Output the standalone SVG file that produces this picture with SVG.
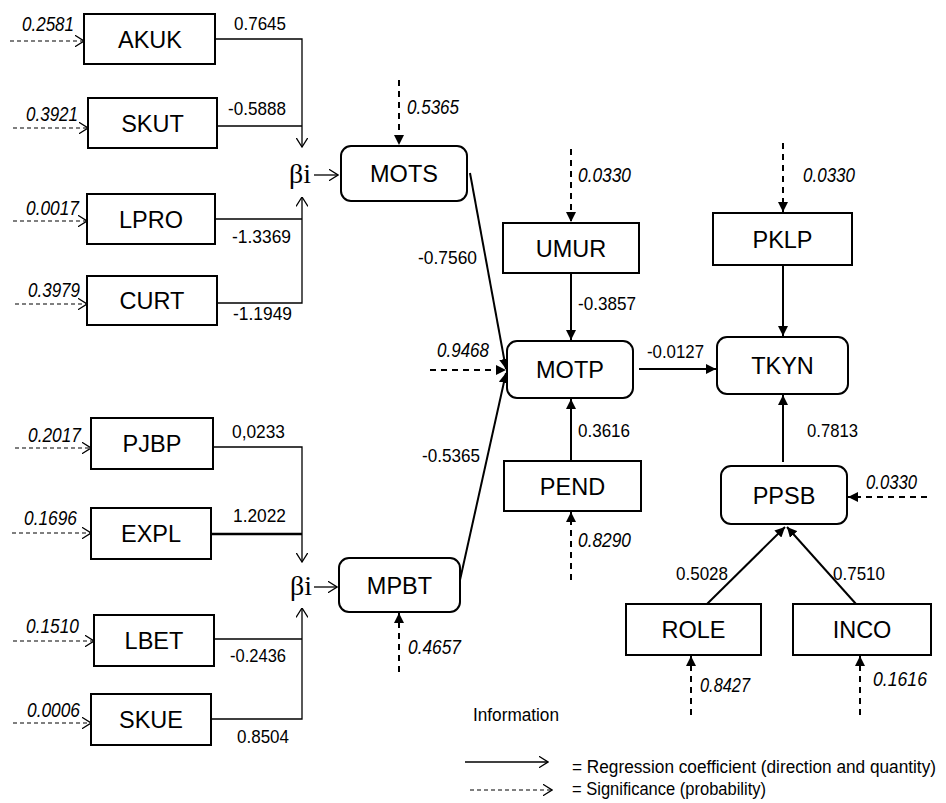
<svg xmlns="http://www.w3.org/2000/svg" width="946" height="803" viewBox="0 0 946 803">
<style>
.box{fill:#fff;stroke:#000;stroke-width:2}
.n{font-family:"Liberation Sans",Arial,sans-serif;font-size:23.5px;text-anchor:middle;fill:#000}
.c{font-family:"Liberation Sans",Arial,sans-serif;font-size:19px;fill:#000}
.l{font-family:"Liberation Sans",Arial,sans-serif;font-size:17.5px;fill:#000}
.p{font-family:"Liberation Sans",Arial,sans-serif;font-size:19.5px;font-style:italic;fill:#000}
.b{font-family:"Liberation Serif","Times New Roman",serif;font-size:28px;fill:#000}
.thin{fill:none;stroke:#000;stroke-width:1.3}
.thick{fill:none;stroke:#000;stroke-width:2.5}
.sol{fill:none;stroke:#000;stroke-width:2;marker-end:url(#fill)}
.dthin{fill:none;stroke:#000;stroke-width:1.2;stroke-dasharray:4 3;marker-end:url(#open)}
.dthick{fill:none;stroke:#000;stroke-width:2;stroke-dasharray:6 5;marker-end:url(#fill)}
.oa{marker-end:url(#open)}
</style>
<defs>
<marker id="open" viewBox="0 0 10 12" refX="9.5" refY="6" markerWidth="10" markerHeight="12" orient="auto" markerUnits="userSpaceOnUse"><path d="M0,0 L9.5,6 L0,12" fill="none" stroke="#000" stroke-width="1.3"/></marker>
<marker id="fill" viewBox="0 0 10 10" refX="10" refY="5" markerWidth="10" markerHeight="10" orient="auto" markerUnits="userSpaceOnUse"><path d="M0,0 L10,5 L0,10 z" fill="#000"/></marker>
</defs>

<g id="connectors">
<path class="thin oa" d="M215 39 H302 V147"/>
<path class="thin" d="M217 126 H302"/>
<path class="thin" d="M215 219 H302"/>
<path class="thin oa" d="M217 303 H302 V197"/>
<path class="thin oa" d="M314 175 H338"/>
<path class="thin oa" d="M213 447 H302 V562"/>
<path class="thick" d="M211 534 H302"/>
<path class="thin" d="M214 639 H302"/>
<path class="thin oa" d="M211 719 H302 V608"/>
<path class="thin oa" d="M314 587 H337"/>
<path class="dthin" d="M10 41 H84"/>
<path class="dthin" d="M13 128 H88"/>
<path class="dthin" d="M13 221 H87"/>
<path class="dthin" d="M15 304 H87"/>
<path class="dthin" d="M15 448 H91"/>
<path class="dthin" d="M12 533 H91"/>
<path class="dthin" d="M13 641 H94"/>
<path class="dthin" d="M13 723 H91"/>
<path class="sol" d="M470 173 L506 369"/>
<path class="sol" d="M460 580 L506 373"/>
<path class="sol" d="M571 273 V340"/>
<path class="sol" d="M571 461 V399"/>
<path class="sol" d="M639 369 H716"/>
<path class="sol" d="M783 265 V336"/>
<path class="sol" d="M783 462 V395"/>
<path class="sol" d="M707 604 L785 527"/>
<path class="sol" d="M856 604 L787 527"/>
<path class="dthick" d="M399 80 V145"/>
<path class="dthick" d="M571 149 V222"/>
<path class="dthick" d="M430 370 H506"/>
<path class="dthick" d="M571 580 V512"/>
<path class="dthick" d="M783 143 V212"/>
<path class="dthick" d="M927 497 H848"/>
<path class="dthick" d="M399 672 V613"/>
<path class="dthick" d="M691 715 V656"/>
<path class="dthick" d="M860 715 V656"/>
<path class="thin oa" d="M465 762 H548"/>
<path class="dthin" d="M470 790 H552"/>
</g>

<g id="AKUK"><rect class="box" x="84" y="14" width="131" height="50"/><text class="n" x="150" y="47.5">AKUK</text></g>
<g id="SKUT"><rect class="box" x="88" y="98" width="129" height="50"/><text class="n" x="152.5" y="131.5">SKUT</text></g>
<g id="LPRO"><rect class="box" x="87" y="194" width="128" height="50"/><text class="n" x="151" y="227.5">LPRO</text></g>
<g id="CURT"><rect class="box" x="87" y="276" width="130" height="49"/><text class="n" x="152" y="309">CURT</text></g>
<g id="PJBP"><rect class="box" x="91" y="418" width="122" height="51"/><text class="n" x="152" y="452">PJBP</text></g>
<g id="EXPL"><rect class="box" x="91" y="508" width="120" height="51"/><text class="n" x="151" y="542">EXPL</text></g>
<g id="LBET"><rect class="box" x="94" y="615" width="120" height="51"/><text class="n" x="154" y="649">LBET</text></g>
<g id="SKUE"><rect class="box" x="91" y="694" width="120" height="51"/><text class="n" x="151" y="728">SKUE</text></g>
<g id="MOTS"><rect class="box" x="341" y="146" width="126" height="55" rx="10"/><text class="n" x="404" y="182">MOTS</text></g>
<g id="MPBT"><rect class="box" x="339" y="558" width="121" height="54" rx="10"/><text class="n" x="399.5" y="593.5">MPBT</text></g>
<g id="UMUR"><rect class="box" x="503" y="223" width="136" height="50"/><text class="n" x="571" y="256.5">UMUR</text></g>
<g id="MOTP"><rect class="box" x="507" y="341" width="126" height="57" rx="10"/><text class="n" x="570" y="378">MOTP</text></g>
<g id="PEND"><rect class="box" x="504" y="461" width="137" height="50"/><text class="n" x="572.5" y="494.5">PEND</text></g>
<g id="PKLP"><rect class="box" x="713" y="213" width="139" height="52"/><text class="n" x="782.5" y="247.5">PKLP</text></g>
<g id="TKYN"><rect class="box" x="717" y="337" width="131" height="57" rx="10"/><text class="n" x="782.5" y="374">TKYN</text></g>
<g id="PPSB"><rect class="box" x="721" y="466" width="126" height="58" rx="10"/><text class="n" x="784" y="503.5">PPSB</text></g>
<g id="ROLE"><rect class="box" x="626" y="604" width="135" height="51"/><text class="n" x="693.5" y="638">ROLE</text></g>
<g id="INCO"><rect class="box" x="793" y="604" width="138" height="51"/><text class="n" x="862" y="638">INCO</text></g>

<g id="beta">
<text class="b" x="289" y="183">βi</text>
<text class="b" x="290" y="595">βi</text>
</g>

<g id="coefficients">
<text class="c" x="234" y="30" textLength="52" lengthAdjust="spacingAndGlyphs">0.7645</text>
<text class="c" x="228" y="115" textLength="58" lengthAdjust="spacingAndGlyphs">-0.5888</text>
<text class="c" x="232" y="243" textLength="59" lengthAdjust="spacingAndGlyphs">-1.3369</text>
<text class="c" x="233" y="320" textLength="59" lengthAdjust="spacingAndGlyphs">-1.1949</text>
<text class="c" x="232" y="438" textLength="53" lengthAdjust="spacingAndGlyphs">0,0233</text>
<text class="c" x="233" y="522" textLength="53" lengthAdjust="spacingAndGlyphs">1.2022</text>
<text class="c" x="230" y="662" textLength="56" lengthAdjust="spacingAndGlyphs">-0.2436</text>
<text class="c" x="237" y="743" textLength="52" lengthAdjust="spacingAndGlyphs">0.8504</text>
<text class="c" x="418" y="264" textLength="59" lengthAdjust="spacingAndGlyphs">-0.7560</text>
<text class="c" x="422" y="462" textLength="58" lengthAdjust="spacingAndGlyphs">-0.5365</text>
<text class="c" x="578" y="310" textLength="58" lengthAdjust="spacingAndGlyphs">-0.3857</text>
<text class="c" x="578" y="437" textLength="52" lengthAdjust="spacingAndGlyphs">0.3616</text>
<text class="c" x="647" y="358" textLength="57" lengthAdjust="spacingAndGlyphs">-0.0127</text>
<text class="c" x="807" y="437" textLength="51" lengthAdjust="spacingAndGlyphs">0.7813</text>
<text class="c" x="676" y="580" textLength="52" lengthAdjust="spacingAndGlyphs">0.5028</text>
<text class="c" x="833" y="580" textLength="52" lengthAdjust="spacingAndGlyphs">0.7510</text>
</g>

<g id="significance">
<text class="p" x="22" y="31" textLength="52" lengthAdjust="spacingAndGlyphs">0.2581</text>
<text class="p" x="26" y="121" textLength="52" lengthAdjust="spacingAndGlyphs">0.3921</text>
<text class="p" x="26" y="215" textLength="53" lengthAdjust="spacingAndGlyphs">0.0017</text>
<text class="p" x="28" y="297" textLength="52" lengthAdjust="spacingAndGlyphs">0.3979</text>
<text class="p" x="28" y="442" textLength="53" lengthAdjust="spacingAndGlyphs">0.2017</text>
<text class="p" x="24" y="525" textLength="53" lengthAdjust="spacingAndGlyphs">0.1696</text>
<text class="p" x="26" y="633" textLength="53" lengthAdjust="spacingAndGlyphs">0.1510</text>
<text class="p" x="27" y="717" textLength="53" lengthAdjust="spacingAndGlyphs">0.0006</text>
<text class="p" x="407" y="114" textLength="52" lengthAdjust="spacingAndGlyphs">0.5365</text>
<text class="p" x="578" y="182" textLength="53" lengthAdjust="spacingAndGlyphs">0.0330</text>
<text class="p" x="437" y="357" textLength="52" lengthAdjust="spacingAndGlyphs">0.9468</text>
<text class="p" x="578" y="547" textLength="53" lengthAdjust="spacingAndGlyphs">0.8290</text>
<text class="p" x="803" y="182" textLength="52" lengthAdjust="spacingAndGlyphs">0.0330</text>
<text class="p" x="866" y="489" textLength="51" lengthAdjust="spacingAndGlyphs">0.0330</text>
<text class="p" x="408" y="654" textLength="53" lengthAdjust="spacingAndGlyphs">0.4657</text>
<text class="p" x="700" y="692" textLength="50" lengthAdjust="spacingAndGlyphs">0.8427</text>
<text class="p" x="873" y="686" textLength="54" lengthAdjust="spacingAndGlyphs">0.1616</text>
</g>

<g id="legend">
<text class="l" x="473" y="721" textLength="86" lengthAdjust="spacingAndGlyphs">Information</text>
<text class="l" x="572" y="773" textLength="364" lengthAdjust="spacingAndGlyphs">= Regression coefficient (direction and quantity)</text>
<text class="l" x="572" y="795" textLength="194" lengthAdjust="spacingAndGlyphs">= Significance (probability)</text>
</g>
</svg>
